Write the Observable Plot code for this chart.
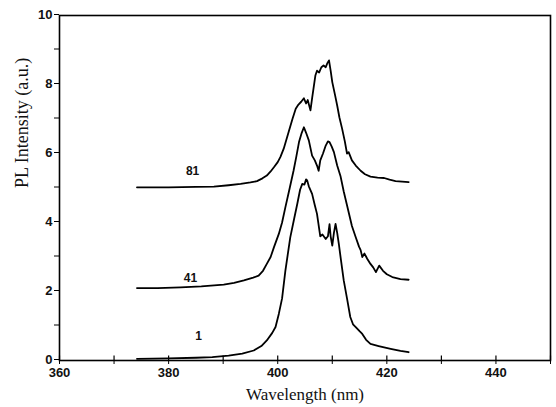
<!DOCTYPE html>
<html>
<head>
<meta charset="utf-8">
<script src="https://cdn.jsdelivr.net/npm/d3@7"></script>
<script src="https://cdn.jsdelivr.net/npm/@observablehq/plot@0.6"></script>
<style>
  html, body { margin: 0; padding: 0; background: #fff; }
  #chart svg { display: block; }
</style>
</head>
<body>
<div id="chart"></div>
<script>
// Wavelength (nm) and PL intensity (a.u.) for each spectrum
const wl1 = [374.2,380,385,388,391,393.5,395.6,397,398,399,399.6,400.2,400.8,401.4,402.3,403,403.6,404.1,404.5,404.9,405.2,405.4,405.7,406.3,406.8,407.2,407.8,408.2,408.8,409.2,409.5,409.7,410,410.3,410.6,410.9,411.2,411.6,412.1,412.7,413.3,413.8,414.3,415,415.5,416.2,417,418.5,420.7,422.5,424];
const pl1 = [0.05,0.06,0.08,0.1,0.14,0.2,0.29,0.42,0.58,0.8,0.97,1.35,1.8,2.6,3.57,4.1,4.55,4.95,5.12,5.1,5.25,5.22,5.05,4.83,4.5,4.25,3.6,3.65,3.52,3.6,3.95,3.6,3.33,3.7,3.96,3.7,3.38,2.9,2.32,1.8,1.26,1.05,0.97,0.85,0.77,0.6,0.48,0.42,0.34,0.28,0.24];

const wl41 = [374.2,378,382.2,386,390.1,392,393.8,395.5,396.5,397.3,398,398.7,399.3,400.2,400.8,401.4,402.2,402.9,403.4,403.9,404.4,404.8,405.2,405.7,406.3,406.8,407.2,407.5,407.8,408.3,408.8,409.2,409.5,409.9,410.3,410.9,411.5,412.1,412.7,413.6,414.3,414.9,415.2,415.5,415.9,416.4,417,417.5,418,418.6,419.3,420,421,422.5,424];
const pl41 = [2.1,2.1,2.12,2.15,2.2,2.25,2.32,2.4,2.46,2.6,2.8,3.0,3.28,3.67,4.0,4.44,5.0,5.5,5.9,6.33,6.6,6.76,6.6,6.38,5.94,5.8,5.65,5.5,5.8,6.0,6.23,6.35,6.33,6.2,6.04,5.65,5.35,4.9,4.5,3.9,3.57,3.3,3.2,3.0,3.1,2.95,2.8,2.7,2.56,2.75,2.6,2.5,2.42,2.36,2.34];

const wl81 = [374.2,380,385,388.3,391,393.2,395,396.2,397.2,398,398.7,399.3,400,400.5,401.1,402,402.7,403.3,403.8,404.3,404.8,405.2,405.5,406,406.3,406.9,407.2,407.6,408,408.4,408.8,409.1,409.4,409.7,410,410.5,410.9,411.3,411.8,412.3,412.7,413,413.6,414.3,415.2,416,417,418.3,419.5,420.5,421.6,424];
const pl81 = [5.02,5.02,5.03,5.04,5.08,5.12,5.16,5.2,5.28,5.36,5.48,5.6,5.75,5.9,6.14,6.62,7.0,7.3,7.42,7.5,7.6,7.45,7.55,7.25,7.6,8.26,8.4,8.35,8.5,8.55,8.5,8.62,8.7,8.4,8.07,7.7,7.39,7.05,6.72,6.35,6.0,6.04,5.8,5.65,5.5,5.4,5.33,5.3,5.29,5.24,5.2,5.17];

// curve labels
const labelText = ["81", "41", "1"];
const labelX = [384.4, 384.0, 385.5];
const labelY = [5.5, 2.4, 0.72];

// ticks
const xTicks = [360,370,380,390,400,410,420,430,440,450];
const xTickLabels = [360,380,400,420,440];
const yTicks = [0,1,2,3,4,5,6,7,8,9,10];
const yTickLabels = [0,2,4,6,8,10];

const series = [
  {name: "1", wl: wl1, pl: pl1},
  {name: "41", wl: wl41, pl: pl41},
  {name: "81", wl: wl81, pl: pl81}
];
const rows = series.flatMap(s => s.wl.map((w, i) => ({series: s.name, wl: w, pl: s.pl[i]})));
const labels = labelText.map((t, i) => ({t, x: labelX[i], y: labelY[i]}));

const chart = Plot.plot({
  width: 556,
  height: 407,
  marginLeft: 59,
  marginRight: 6,
  marginTop: 15,
  marginBottom: 47,
  style: {fontFamily: "'Liberation Sans', Arial, sans-serif", background: "#fff", color: "#000"},
  x: {domain: [360, 450]},
  y: {domain: [0, 10]},
  marks: [
    Plot.axisY({
      ticks: yTicks, tickSize: 5, tickPadding: 2,
      tickFormat: d => yTickLabels.includes(d) ? String(d) : "",
      fontSize: 13, fontWeight: "bold", fill: "#111", dy: -1,
      label: null
    }),
    Plot.axisX({
      ticks: xTicks, tickSize: 4, tickPadding: 3,
      tickFormat: d => xTickLabels.includes(d) ? String(d) : "",
      fontSize: 13, fontWeight: "bold", fill: "#111",
      label: null
    }),
    Plot.ruleX(xTicks, {x: d => d, y1: 0, y2: 0.13, stroke: "black", strokeWidth: 1.2}),
    Plot.frame({stroke: "black", strokeWidth: 1.6}),
    Plot.line(rows, {x: "wl", y: "pl", z: "series", stroke: "black", strokeWidth: 1.8, curve: "linear"}),
    Plot.text(labels, {x: "x", y: "y", text: "t", fontSize: 12, fontWeight: "bold", fill: "#111", textAnchor: "middle", style: "letter-spacing:2px"}),
    Plot.text(["Wavelength (nm)"], {frameAnchor: "bottom", dy: 39, text: d => d, fontSize: 17, fontFamily: "'Liberation Serif', 'DejaVu Serif', serif", fill: "#111"}),
    Plot.text(["PL Intensity (a.u.)"], {frameAnchor: "left", dx: -37, rotate: -90, text: d => d, fontSize: 18, fontFamily: "'Liberation Serif', 'DejaVu Serif', serif", fill: "#111", style: "letter-spacing:1.5px"})
  ]
});
document.getElementById("chart").appendChild(chart);
</script>
</body>
</html>
